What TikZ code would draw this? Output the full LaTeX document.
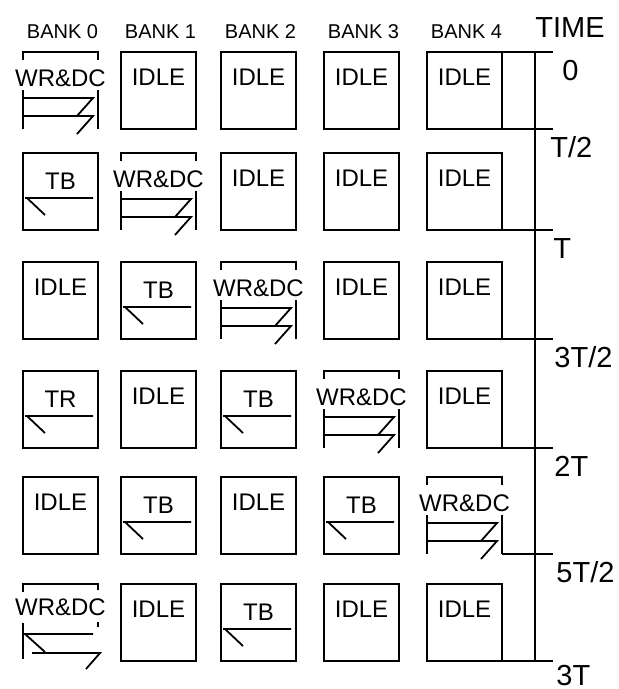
\documentclass[tikz,border=0pt]{standalone}
\usepackage{fontspec}
\setmainfont{Liberation Sans}

\def\colx{{23,121,221,324,427}}
\def\rowy{{52,153,262,371,477,584}}

\tikzset{
  cell/.style={line width=0.9pt},
  lbl/.style={font=\fontsize{12}{14}\selectfont, inner sep=0pt, anchor=base, yshift=-4.3pt},
  banklbl/.style={font=\fontsize{10}{12}\selectfont, inner sep=0pt, anchor=base, yshift=-3.6pt},
  timelbl/.style={font=\fontsize{14.5}{17}\selectfont, inner sep=0pt, anchor=base west, yshift=-5.2pt},
  % plain idle bank
  idlebox/.pic={
    \draw[cell] (0,0) rectangle (75,77);
    \node[lbl] (-txt) at (37.5,25) {IDLE};
  },
  % transfer box, read arrow to the left
  tbbox/.pic={
    \draw[cell] (0,0) rectangle (75,77);
    \node[lbl] (-txt) at (37.5,28) {#1};
    \draw[cell] (2,45) -- (70,45) (4,45) -- (22,62);
  },
  % write and decode
  wrdcbox/.pic={
    \draw[cell] (0,8) -- (0,0) -- (75,0) -- (75,8);
    \node[lbl] (-txt) at (37.5,26) {WR\&DC};
    \draw[cell] (0,38) -- (0,77) (75,38) -- (75,77);
    \draw[cell] (0,46) -- (70,46) -- (54,64);
    \draw[cell] (0,64) -- (70,64) -- (54,82);
  },
  % write and decode, last row
  wrdcback/.pic={
    \draw[cell] (0,8) -- (0,0) -- (75,0) -- (75,6);
    \node[lbl] (-txt) at (37.5,23) {WR\&DC};
    \draw[cell] (75,38) -- (75,43);
    \draw[cell] (0,39) -- (0,75);
    \draw[cell] (70,50) -- (0,50) (2,50) -- (22,68);
    \draw[cell] (9,69) -- (77,69) -- (63,85);
  }
}

\begin{document}
\begin{tikzpicture}[x=0.5pt, y=-0.5pt]
  \useasboundingbox (0,0) rectangle (619,689);
  % bank titles
  \foreach \b in {0,...,4}
  {
    \pgfmathsetmacro\cx{\colx[\b]}
    \node[banklbl] (bank\b) at (\cx+39.5,31) {BANK \b};
  }
  % idle cells
  \foreach \b/\r in {1/0, 2/0, 3/0, 4/0,
                     2/1, 3/1, 4/1,
                     0/2, 3/2, 4/2,
                     1/3, 4/3,
                     0/4, 2/4,
                     1/5, 3/5, 4/5}
  {
    \pgfmathsetmacro\cx{\colx[\b]}
    \pgfmathsetmacro\cy{\rowy[\r]}
    \pic (c\b\r) at (\cx,\cy) {idlebox};
  }
  % transfer cells
  \foreach \b/\r/\t in {0/1/TB, 1/2/TB, 0/3/TR, 2/3/TB, 1/4/TB, 3/4/TB, 2/5/TB}
  {
    \pgfmathsetmacro\cx{\colx[\b]}
    \pgfmathsetmacro\cy{\rowy[\r]}
    \pic (c\b\r) at (\cx,\cy) {tbbox=\t};
  }
  % write cells
  \foreach \b in {0,...,4}
  {
    \pgfmathsetmacro\cx{\colx[\b]}
    \pgfmathsetmacro\cy{\rowy[\b]}
    \pic (c\b\b) at (\cx,\cy) {wrdcbox};
  }
  \pic (c05) at (23,584) {wrdcback};
  % time axis
  \node[timelbl, anchor=base] (time) at (570,27) {TIME};
  \draw[cell] (535,52) -- (535,661);
  \foreach \y/\ly/\lx/\t in {52/70/562/0, 129/147/550/{T/2}, 230/248/553/T,
                             339/357/554/{3T/2}, 448/466/554/2T,
                             554/572/556/{5T/2}, 661/675/556/3T}
  {
    \draw[cell] (502,\y) -- (553,\y);
    \node[timelbl] (tick\y) at (\lx,\ly) {\t};
  }
\end{tikzpicture}
\end{document}
